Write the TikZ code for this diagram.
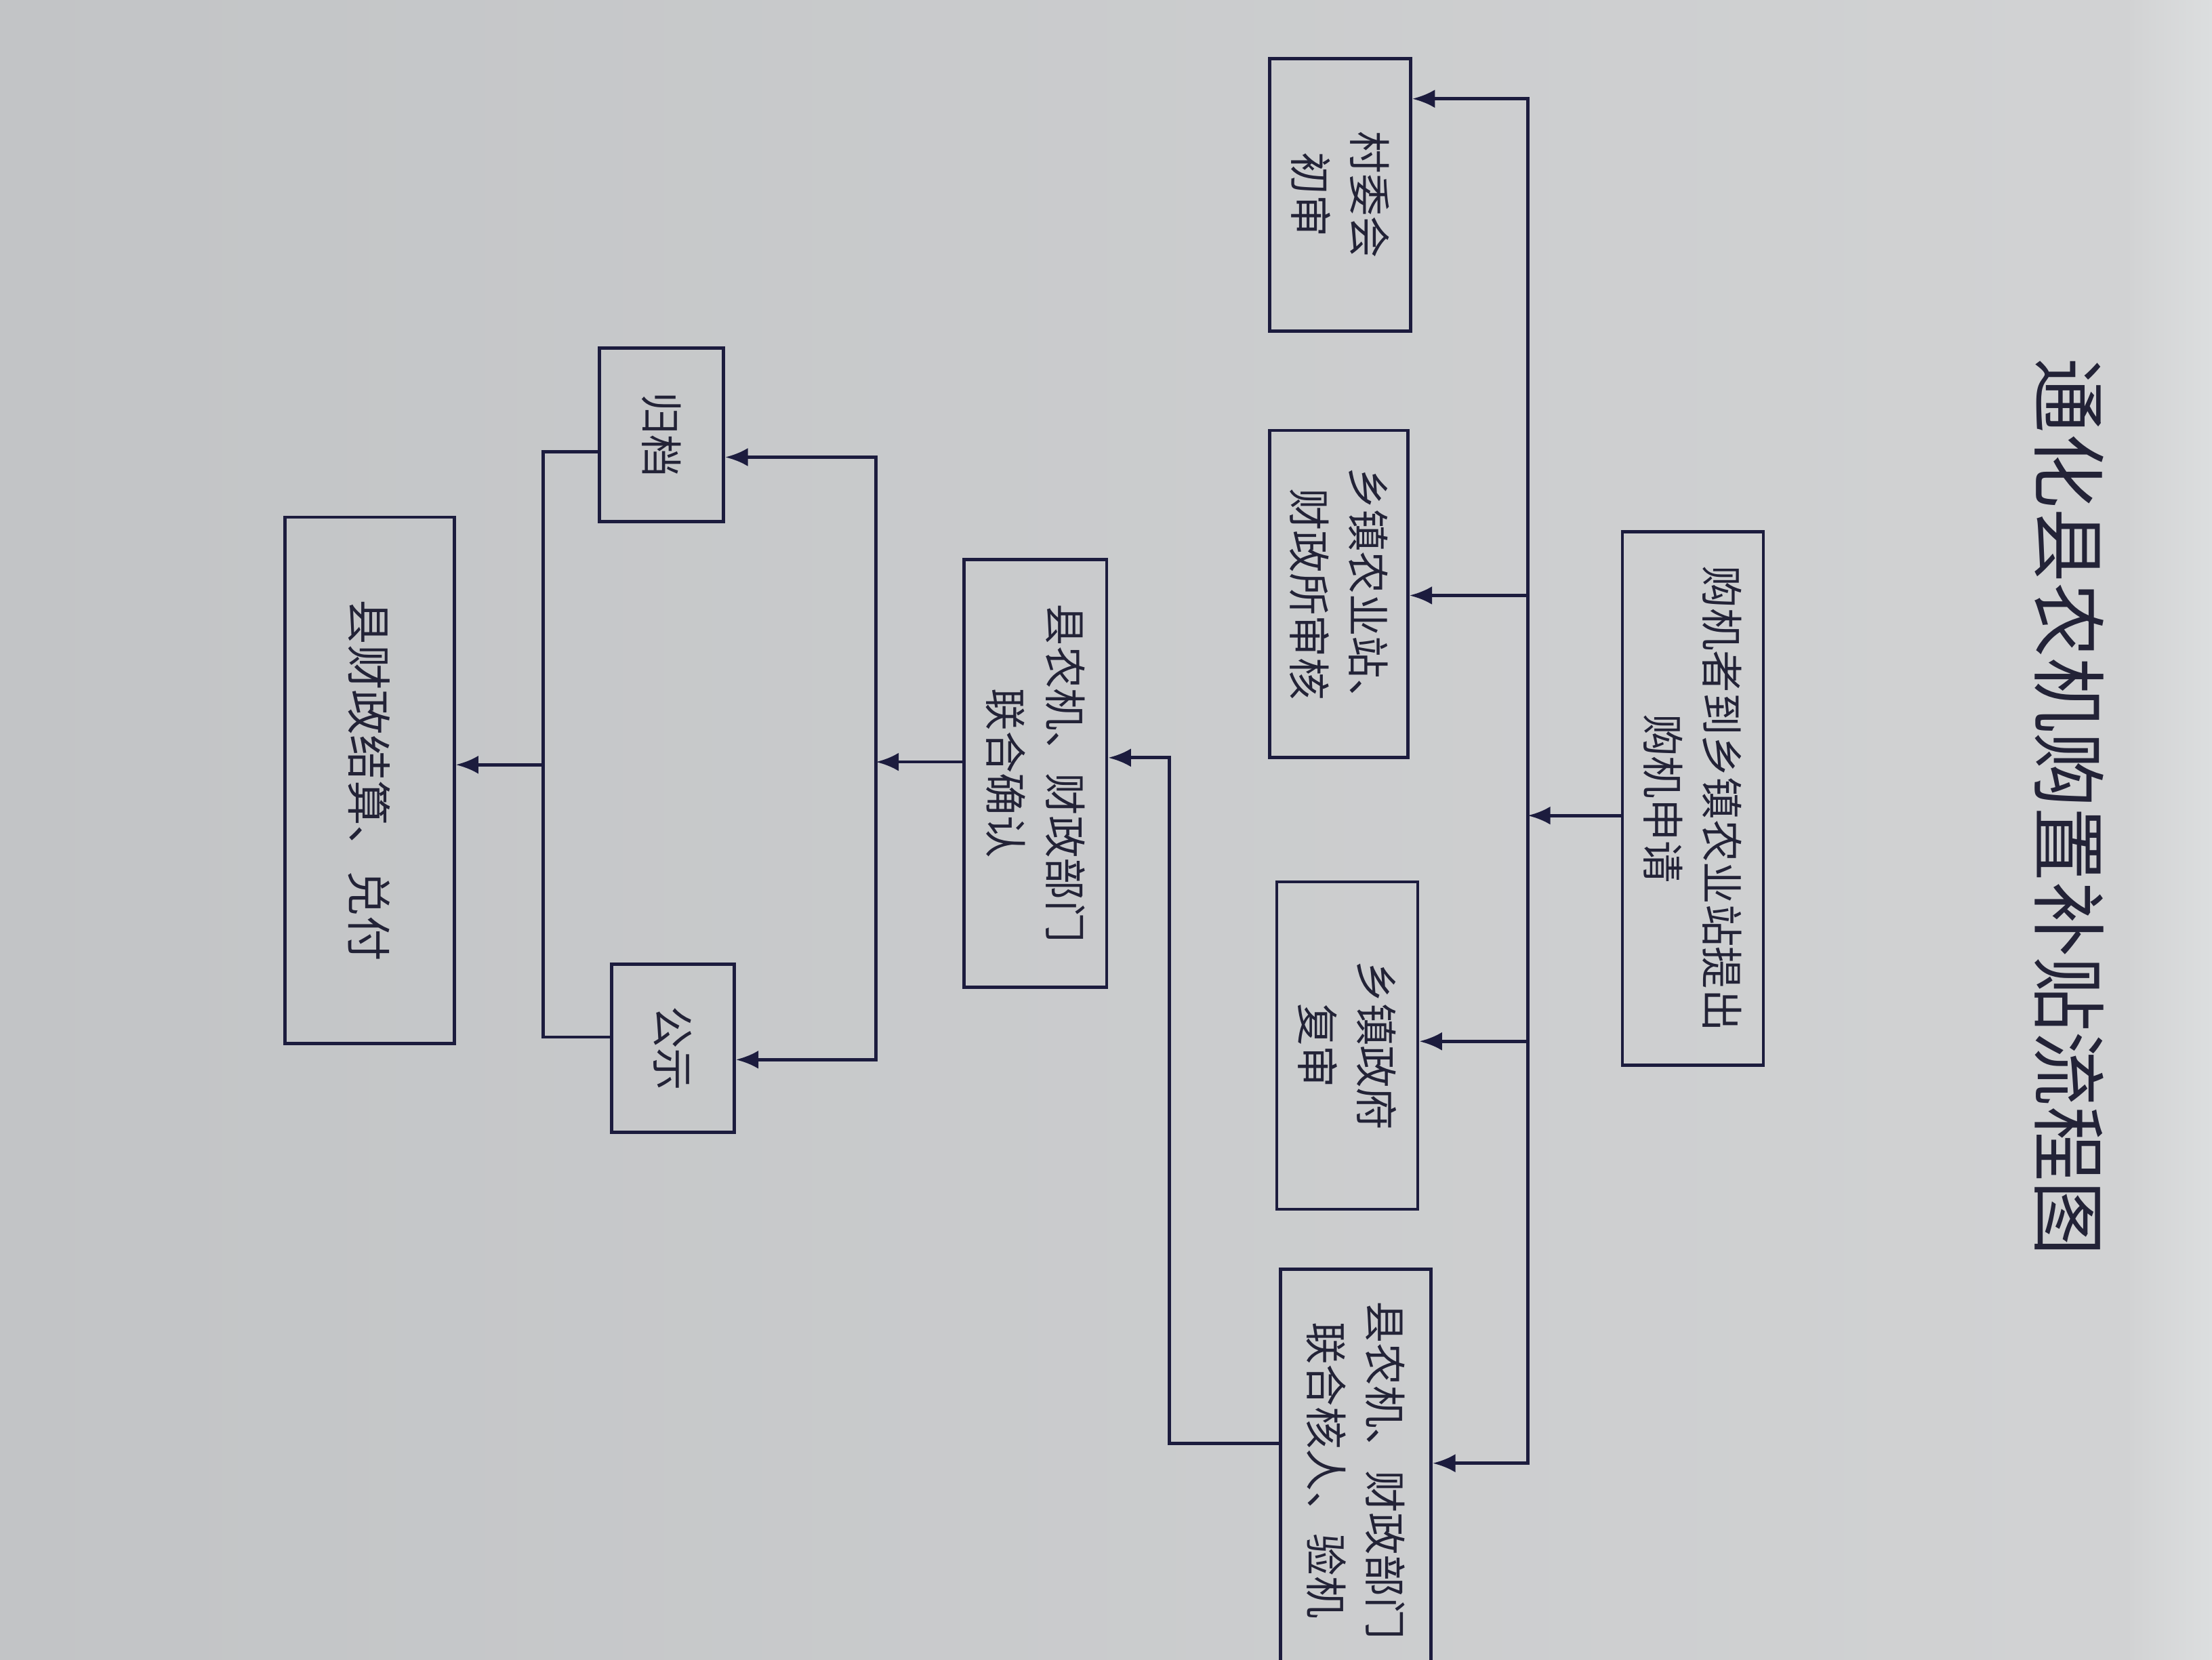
\documentclass[tikz,border=0pt]{standalone}
\usepackage{fontspec}
\newfontfamily\cjk{Noto Sans CJK SC}
\usetikzlibrary{arrows.meta,calc}
\definecolor{linec}{RGB}{28,28,62}
\definecolor{txtc}{RGB}{35,35,55}
\definecolor{bgl}{RGB}{194,196,198}
\definecolor{bgr}{RGB}{210,211,212}
\definecolor{stripc}{RGB}{220,222,223}
\begin{document}
\begin{tikzpicture}[x=1pt,y=-1pt,
  box/.style={draw=linec, line width=2.3pt, rotate=-90, align=center, inner sep=0pt,
    text=txtc, font=\cjk\fontsize{30}{42}\selectfont},
  conn/.style={draw=linec, line width=2.3pt},
  >={Latex[length=16pt,width=13pt]}]
\useasboundingbox (0,0) rectangle (1568,1176);
\shade[left color=bgl, right color=bgr] (0,0) rectangle (1568,1176);
\shade[left color=bgr, right color=stripc] (1510,0) rectangle (1568,1176);
\clip (0,0) rectangle (1568,1176);

% title
\node[rotate=-90, text=txtc, font=\cjk\fontsize{53}{60}\selectfont] (title) at (1467,572) {通化县农机购置补贴流程图};

% boxes
\node[box, minimum width=193pt, minimum height=100pt] (b1) at (950,138) {村委会\\初审};
\node[box, minimum width=232pt, minimum height=98pt] (b2) at (949,421) {乡镇农业站、\\财政所审核};
\node[box, minimum width=232pt, minimum height=100pt] (b3) at (955,741) {乡镇政府\\复审};
\node[box, minimum width=285pt, minimum height=107pt] (b4) at (961,1042) {县农机、财政部门\\联合核人、验机};
\node[box, minimum width=378pt, minimum height=100pt] (b5) at (1200,566) {购机者到乡镇农业站提出\\购机申请};
\node[box, minimum width=303pt, minimum height=101pt] (b6) at (734,548) {县农机、财政部门\\联合确认};
\node[box, minimum width=123pt, minimum height=88pt] (b7) at (469,308) {归档};
\node[box, minimum width=119pt, minimum height=87pt] (b8) at (477,743) {公示};
\node[box, minimum width=373pt, minimum height=120pt, font=\cjk\fontsize{32}{42}\selectfont] (b9) at (262,553) {县财政结算、兑付};

% right bus
\coordinate (bt) at (1083,70);
\coordinate (bb) at (1083,1037);
\coordinate (j2) at (1083,422);
\coordinate (j3) at (1083,738);
\coordinate (j5) at (1083,578);
\draw[conn,<->] (bt -| b1.north) -- (bt) -- (bb) -- (bb -| b4.north);
\draw[conn,->] (j2) -- (j2 -| b2.north);
\draw[conn,->] (j3) -- (j3 -| b3.north);
\draw[conn,->] (j5 -| b5.south) -- (j5);

% b4 to b6
\coordinate (k1) at (829,1023);
\coordinate (k2) at (829,537);
\draw[conn,->] (k1 -| b4.south) -- (k1) -- (k2) -- (k2 -| b6.north);

% middle bus
\coordinate (m0) at (621,540);
\coordinate (m1) at (621,324);
\coordinate (m2) at (621,751);
\draw[conn,->] (m0 -| b6.south) -- (m0);
\draw[conn,<->] (m1 -| b7.north) -- (m1) -- (m2) -- (m2 -| b8.north);

% left bus
\coordinate (n0) at (385,542);
\coordinate (n1) at (385,320);
\coordinate (n2) at (385,735);
\draw[conn] (n1 -| b7.south) -- (n1) -- (n2) -- (n2 -| b8.south);
\draw[conn,->] (n0) -- (n0 -| b9.north);
\end{tikzpicture}
\end{document}
